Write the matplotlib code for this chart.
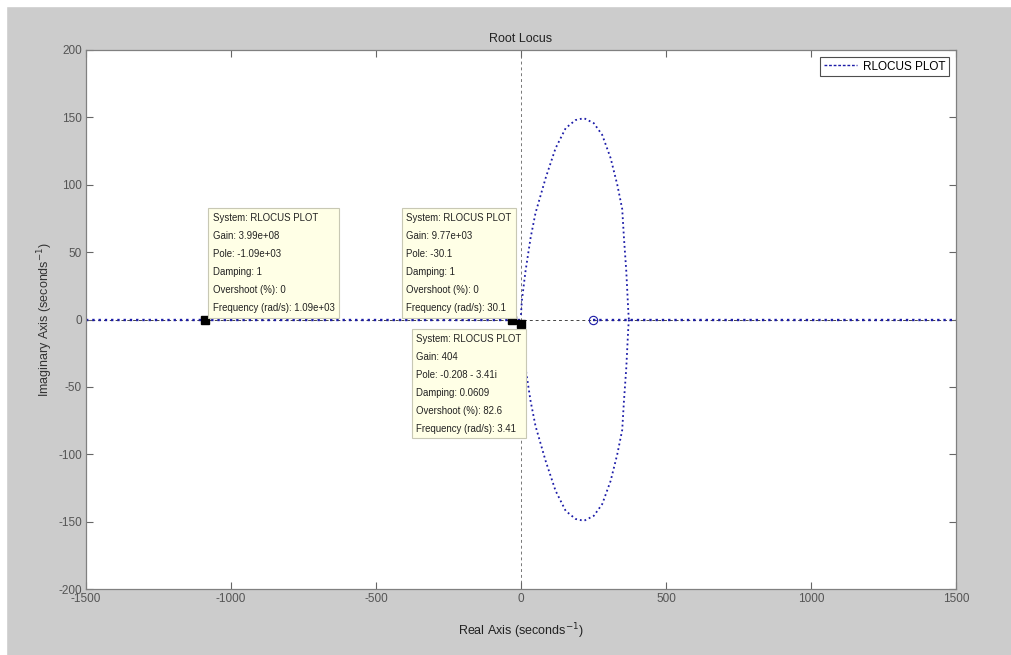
import matplotlib.pyplot as plt
from matplotlib.lines import Line2D
from matplotlib.patches import Rectangle

# upper half of the complex branch, from the pole pair near the origin to the break-in point
branch_re = [-0.208, 3, 15.5, 33, 50, 85, 119, 154, 188, 217, 251, 280, 309, 332, 349, 355, 363, 370, 372]
branch_im = [3.41, 14, 35.8, 60.5, 79, 105, 127, 142, 148, 149.4, 145.7, 137, 119.8, 100, 82, 60.5, 36, 6, 0]

# real-axis segments of the locus
left_re = [-1500, -1090, -30.1, -0.208]
right_re = [247, 372, 1500]

zero_re = [247]
zero_im = [0]

# data tips: (real, imag, lines of text)
tips = [
    (-1090, 0, ["System: RLOCUS PLOT", "Gain: 3.99e+08", "Pole: -1.09e+03", "Damping: 1",
                "Overshoot (%): 0", "Frequency (rad/s): 1.09e+03"]),
    (-30.1, 0, ["System: RLOCUS PLOT", "Gain: 9.77e+03", "Pole: -30.1", "Damping: 1",
                "Overshoot (%): 0", "Frequency (rad/s): 30.1"]),
    (-0.208, -3.41, ["System: RLOCUS PLOT", "Gain: 404", "Pole: -0.208 - 3.41i", "Damping: 0.0609",
                     "Overshoot (%): 82.6", "Frequency (rad/s): 3.41"]),
]
# text anchors (upper-left corner, data units)
tip_pos = [(-1063, 79), (-395, 79), (-361, -10.5)]

plt.rcParams['font.family'] = ['Liberation Sans', 'DejaVu Sans']
plt.rcParams['axes.unicode_minus'] = False

fig = plt.figure(figsize=(10.12, 6.55), dpi=100, facecolor='#cccccc')
# thin white margin along the top and left edges
fig.patches.append(Rectangle((0, 0), 6 / 1012, 1, transform=fig.transFigure, color='white', zorder=-1))
fig.patches.append(Rectangle((0, 1 - 6 / 655), 1, 6 / 655, transform=fig.transFigure, color='white', zorder=-1))

ax = fig.add_axes([86 / 1012, 1 - 589 / 655, 870 / 1012, 539 / 655])
ax.set_facecolor('white')

loc_color = '#1c1ca8'

# reference axes through the origin
ax.axhline(0, color='#444444', lw=0.7, ls=(0, (3, 3)), zorder=1)
ax.axvline(0, color='#777777', lw=0.7, ls=(0, (3, 3)), zorder=1)

ax.plot(branch_re, branch_im, ls=':', color=loc_color, lw=1.3, zorder=2)
ax.plot(branch_re, [-v for v in branch_im], ls=':', color=loc_color, lw=1.3, zorder=2)
ax.plot(left_re, [0] * len(left_re), ls=':', color=loc_color, lw=1.7, zorder=2)
ax.plot(right_re, [0] * len(right_re), ls=':', color=loc_color, lw=1.7, zorder=2)
ax.plot(zero_re, zero_im, 'o', mfc='none', mec=loc_color, ms=6, mew=0.8, zorder=3)

for (re, im, lines), (tx, ty) in zip(tips, tip_pos):
    ax.plot(re, im, 's', color='black', ms=5.5, zorder=5)
    ax.text(tx, ty, "\n".join(lines), fontsize=6.9, va='top', ha='left', color='#222222',
            linespacing=2.0, zorder=6,
            bbox=dict(boxstyle='square,pad=0.5', fc='#ffffe6', ec='#c8c8b4', lw=0.8))

ax.set_xlim(-1500, 1500)
ax.set_ylim(-200, 200)
ax.set_xticks(range(-1500, 1501, 500))
ax.set_yticks(range(-200, 201, 50))
ax.tick_params(direction='in', top=True, right=True, length=5, width=0.8,
               colors='#666666', labelsize=8.5, labelcolor='#555555', pad=3)
for s in ax.spines.values():
    s.set_color('#808080')
    s.set_linewidth(0.9)

ax.set_title('Root Locus', fontsize=9, color='#222222', pad=6)
ax.set_xlabel('Real Axis (seconds$^{-1}$)', fontsize=9, color='#222222', labelpad=12)
ax.set_ylabel('Imaginary Axis (seconds$^{-1}$)', fontsize=9, color='#333333', labelpad=2)

handle = Line2D([], [], color='#1c1ca8', lw=1.0, ls=(0, (2, 1.3)))
leg = ax.legend([handle], ['RLOCUS PLOT'], loc='upper right', fontsize=8.5, frameon=True,
                fancybox=False, handlelength=2.8, handletextpad=0.5, borderpad=0.3,
                borderaxespad=0.6)
leg.get_frame().set_edgecolor('#222222')
leg.get_frame().set_linewidth(0.8)

fig.savefig('out.png', dpi=100, facecolor=fig.get_facecolor())
